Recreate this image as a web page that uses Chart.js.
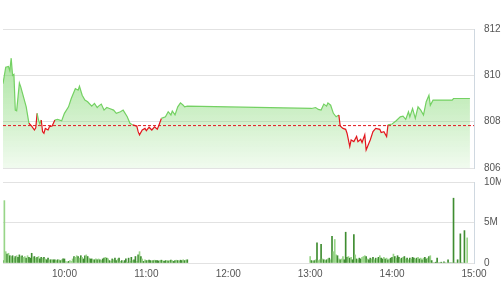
<!DOCTYPE html>
<html lang="vi">
<head>
<meta charset="UTF-8">
<title>Diễn biến chỉ số trong phiên</title>
<script src="https://cdn.jsdelivr.net/npm/chart.js"></script>
<style>
    html, body { margin: 0; padding: 0; background: #fff; }
    #khung { position: relative; width: 501px; height: 300px; overflow: hidden; }
    #gia { position: absolute; left: 0; top: 0; }
    #kl { position: absolute; left: 0; top: 166px; }
</style>
</head>
<body>
<div id="khung">
    <canvas id="kl" width="501" height="135"></canvas>
    <canvas id="gia" width="501" height="184"></canvas>
</div>
<script>
// diem tham chieu (gia dong cua phien truoc)
const giaThamChieu = 807.83;

const gioGia = [
    '9:15','9:17','9:19','9:20','9:21','9:22','9:23','9:24','9:25','9:26','9:27','9:28','9:30','9:32','9:34','9:36',
    '9:38','9:39','9:40','9:41','9:42','9:43','9:44','9:45','9:46','9:48','9:49','9:51','9:53','9:55','9:58',
    '10:00','10:03','10:05','10:08','10:10','10:11','10:13','10:15','10:17','10:20','10:22','10:24','10:25','10:27','10:29',
    '10:31','10:33','10:36','10:38','10:41','10:43','10:46','10:48','10:50','10:53','10:54','10:55','10:57','10:59',
    '11:00','11:02','11:04','11:06','11:08','11:09','11:11','11:14','11:16','11:18','11:19','11:21','11:23','11:25','11:27','11:28','11:30',
    '13:01','13:04','13:06','13:08','13:10','13:12','13:13','13:15','13:17','13:19','13:21','13:22','13:24','13:26','13:27','13:29',
    '13:30','13:32','13:34','13:35','13:37','13:38','13:40','13:41','13:43','13:44','13:46','13:48','13:51','13:52','13:54','13:56','13:57',
    '14:00','14:03','14:06','14:08','14:10','14:12','14:13','14:15','14:17','14:19','14:21','14:23','14:25','14:27','14:28','14:30',
    '14:44','14:45','14:57'
];
const giaTri = [
    809.64,810.35,810.38,810.2,810.74,810.0,810.04,808.5,808.47,809.07,809.67,809.5,809.07,808.64,807.93,807.81,
    807.64,807.74,808.36,808.07,807.9,808.07,807.57,807.5,807.71,807.64,807.78,807.81,808.07,808.1,808.04,
    808.36,808.64,809.0,809.43,809.36,809.53,809.14,808.93,808.86,808.67,808.79,808.61,808.67,808.76,808.5,
    808.61,808.57,808.5,808.36,808.43,808.5,808.21,807.93,807.86,807.81,807.57,807.43,807.64,807.71,
    807.61,807.76,807.64,807.78,807.67,807.81,808.14,808.21,808.43,808.29,808.46,808.29,808.64,808.81,808.71,808.64,808.67,
    808.57,808.61,808.53,808.5,808.76,808.67,808.81,808.71,808.36,808.21,808.29,807.81,807.71,807.67,807.5,806.93,
    807.21,807.14,807.36,807.14,807.24,807.1,807.43,806.78,807.07,807.21,807.57,807.71,807.67,807.53,807.57,807.36,807.86,
    807.9,808.04,808.21,808.24,808.1,808.43,808.21,808.57,808.14,808.64,808.5,808.29,808.86,809.14,808.71,808.93,
    808.93,809.0,809.0
];

// khoi luong tung phut (trieu cp), phien sang bat dau 9:15, phien chieu 13:00
const batDauSang = '9:15';
const klSang = [
    0.3,7.7,1.4,1.1,1.2,0.9,0.8,0.9,0.6,0.8, 0.9,0.7,1.0,0.8,0.9,0.7,0.8,0.6,0.9,0.7,
    0.6,1.2,0.7,0.8,0.6,0.7,0.8,0.5,0.7,0.6, 0.7,0.5,0.4,0.6,0.4,0.4,0.4,0.4,0.4,0.3,
    0.4,0.4,0.3,0.4,0.5,0.5,0.2,0.1,0.2,0.3, 0.2,0.5,0.8,0.7,0.9,0.8,0.6,0.9,0.7,0.5,
    0.9,1.0,0.8,0.6,0.5,0.5,0.4,0.4,0.5,0.4, 0.5,0.4,0.3,0.5,0.6,0.7,0.6,0.5,0.3,0.2,
    0.5,0.4,0.6,0.3,0.5,0.6,0.2,0.3,0.1,0.3, 0.5,0.1,0.6,0.2,0.7,0.3,0.4,0.8,0.2,1.0,
    1.4,0.8,0.5,0.2,0.4,0.3,0.3,0.35,0.3,0.25, 0.3,0.35,0.3,0.3,0.25,0.3,0.35,0.3,0.2,0.3,
    0.3,0.25,0.3,0.35,0.3,0.2,0.3,0.35,0.3,0.25, 0.35,0.3,0.4,0.3,0.35,0.4
];
const benSang = 'DLLDLDLDLDLDDLDLLDLDDDLDLDLDDLDLDDLDLDDLDLDLDDLLDLLLDLLDLDLDDLDLDDLDLDLDLDDLDLDLDLDDLDLDLDDLDLDLDDLDLDLDLDLDDLDLDDDLDLDDLDLDLDDLDLDDLDLDLDD';

const batDauChieu = '13:00';
const klChieu = [
    0.8,0.3,0.2,0.3,0.4,2.5,0.3,0.4,2.3,0.5, 0.4,0.3,0.4,0.5,0.6,0.4,3.3,1.4,2.9,1.0,
    0.9,0.5,0.4,0.5,0.8,0.4,3.8,0.7,0.8,0.6, 0.7,0.4,3.5,1.0,0.5,0.4,0.6,0.5,0.7,0.8,
    0.9,0.8,0.5,0.4,0.6,0.5,0.7,0.4,0.6,0.5, 0.7,0.9,0.6,0.5,0.7,0.5,0.6,0.4,0.5,0.6,
    0.7,1.1,0.8,0.6,0.9,0.7,0.5,0.6,0.7,0.8, 0.5,0.6,0.4,0.6,0.5,0.7,0.6,0.5,0.6,0.7,
    0.5,0.6,0.4,0.6,0.7,0.5,0.6,0.8,0.9,0.3, 0,0,0.1,0.6,0,0,0.1,0,0.15,0,
    0,0.4,0,0,0,8.0,0,0,0.4,0, 3.6,0,0,4.0,0,3.1
];
const benChieu = 'LDLDLDLLDLDLDLDLDLLLDLDLLDDDLDLDDLDLDDLLLDLDDLDLDLDLDDLDLDLDDLDLDDLDLDLDLDLDDLDLDLDLDDLDLDDDDDDDDLDDLDDDDDDLDLDDLDL';

const mocGio = ['10:00','11:00','12:00','13:00','14:00','15:00'];

const xanh = '#74d163';
const do_ = '#e3161d';
const chu = { color: '#555', font: { family: 'Arial', size: 10 } };

function phut(s) {
    const [h, m] = s.split(':').map(Number);
    return h * 60 + m;
}
function nhanGio(v) {
    return Math.floor(v / 60) + ':' + String(v % 60).padStart(2, '0');
}

const diemGia = gioGia.map((t, i) => ({ x: phut(t), y: giaTri[i] }));

function toNen(ctx) {
    const khu = ctx.chart.chartArea;
    if (!khu) return 'rgba(118,210,101,0.3)';
    const g = ctx.chart.ctx.createLinearGradient(0, khu.top, 0, khu.bottom);
    g.addColorStop(0, 'rgba(118,212,100,0.75)');
    g.addColorStop(1, 'rgba(118,212,100,0.1)');
    return g;
}

new Chart(document.getElementById('gia'), {
    type: 'line',
    data: {
        datasets: [
            {   // phan trang giua duong gia va tham chieu khi giam
                data: diemGia,
                borderColor: 'rgba(0,0,0,0)',
                pointRadius: 0,
                fill: { target: { value: giaThamChieu }, above: 'rgba(0,0,0,0)', below: '#ffffff' }
            },
            {   // nen xanh
                data: diemGia,
                borderColor: 'rgba(0,0,0,0)',
                pointRadius: 0,
                fill: 'start',
                backgroundColor: toNen
            },
            {
                data: diemGia,
                borderColor: xanh,
                borderWidth: 1.2,
                pointRadius: 0,
                fill: false,
                segment: {
                    borderColor: c => (c.p0.parsed.y < giaThamChieu || c.p1.parsed.y < giaThamChieu) ? do_ : xanh
                }
            },
            {
                data: [{ x: phut('9:15'), y: giaThamChieu }, { x: phut('15:00'), y: giaThamChieu }],
                borderColor: do_,
                borderWidth: 1,
                borderDash: [3, 2],
                pointRadius: 0,
                fill: false
            }
        ]
    },
    options: {
        responsive: false,
        animation: false,
        layout: { padding: { left: 3, top: 29, bottom: 5 } },
        plugins: {
            legend: { display: false },
            tooltip: { enabled: false },
            filler: { drawTime: 'beforeDatasetsDraw' }
        },
        scales: {
            x: { type: 'linear', min: phut('9:15'), max: phut('15:00'), display: false },
            y: {
                position: 'right',
                min: 806, max: 812,
                ticks: { stepSize: 2, padding: 10, ...chu },
                grid: { color: '#e2e2e2', drawTicks: false },
                border: { display: true, color: '#cfd8e0' },
                afterFit: s => { s.width = 27; }
            }
        }
    }
});

const diemKl = [];
const mauKl = [];
klSang.forEach((v, i) => {
    diemKl.push({ x: phut(batDauSang) + i, y: v });
    mauKl.push(benSang[i] === 'D' ? '#3f8d31' : '#98d588');
});
klChieu.forEach((v, i) => {
    diemKl.push({ x: phut(batDauChieu) + i, y: v });
    mauKl.push(benChieu[i] === 'D' ? '#3f8d31' : '#98d588');
});

new Chart(document.getElementById('kl'), {
    type: 'bar',
    data: {
        datasets: [{ data: diemKl, backgroundColor: mauKl, barThickness: 1 }]
    },
    options: {
        responsive: false,
        animation: false,
        layout: { padding: { left: 3, top: 7 } },
        plugins: { legend: { display: false }, tooltip: { enabled: false } },
        scales: {
            x: {
                type: 'linear',
                min: phut('9:15'), max: phut('15:00'),
                offset: false,
                grid: { display: false, drawTicks: false },
                border: { display: false },
                afterBuildTicks: s => { s.ticks = mocGio.map(t => ({ value: phut(t) })); },
                ticks: { callback: v => nhanGio(v), padding: 5, maxRotation: 0, autoSkip: false, ...chu },
                afterFit: s => { s.height = 38; }
            },
            y: {
                position: 'right',
                min: 0, max: 10,
                ticks: { stepSize: 5, padding: 10, callback: v => v === 0 ? '0' : v + 'M', ...chu },
                grid: { color: '#e2e2e2', drawTicks: false },
                border: { display: true, color: '#cfd8e0' },
                afterFit: s => { s.width = 27; }
            }
        }
    }
});
</script>
</body>
</html>
